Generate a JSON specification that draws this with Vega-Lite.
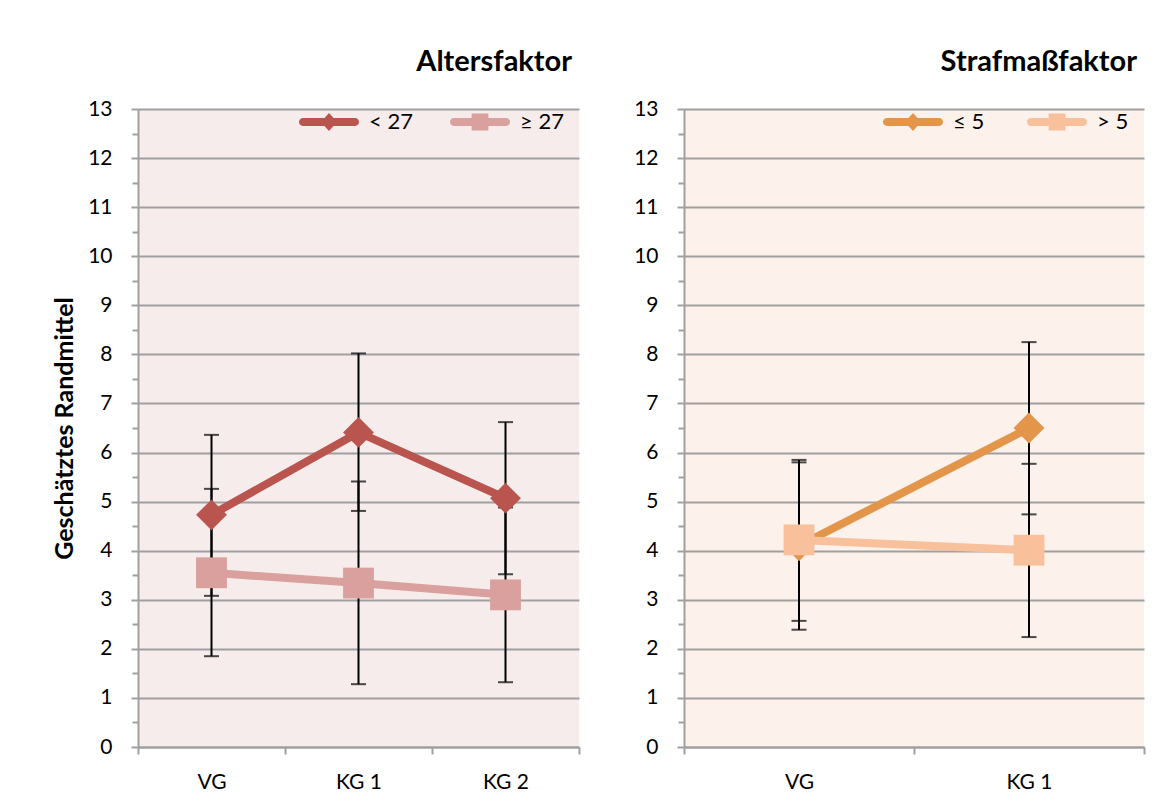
{
  "$schema": "https://vega.github.io/schema/vega-lite/v6.json",
  "background": "white",
  "padding": {"left": 52, "top": 48, "right": 5, "bottom": 5},
  "spacing": 53,
  "resolve": {"scale": {"color": "independent"}, "legend": {"color": "independent"}},
  "config": {
    "font": "Lato",
    "axis": {"domainColor": "#A0A0A0", "domainWidth": 2, "tickColor": "#A0A0A0", "tickWidth": 2, "gridColor": "#A0A0A0", "gridWidth": 2, "labelFont": "Lato", "labelFontSize": 21, "labelColor": "black", "titleFont": "Lato", "titleFontSize": 25, "titleFontWeight": "bold", "titleColor": "black"},
    "axisY": {"labelPadding": 19, "titlePadding": 10, "labelOverlap": false, "labelFlush": false},
    "axisX": {"labelPadding": 17, "tickSize": 7, "grid": false, "labelAngle": 0, "tickBand": "extent", "title": null, "labelFontSize": 21},
    "title": {"font": "Lato", "fontSize": 29, "fontWeight": "bold", "anchor": "end", "color": "black", "offset": 15, "dx": -8},
    "legend": {"labelFont": "Lato", "labelFontSize": 22, "labelColor": "black", "padding": 0, "title": null}
  },
  "hconcat": [
    {
      "width": 441,
      "height": 638,
      "view": {"fill": "#F5ECEB", "stroke": null},
      "title": {"text": "Altersfaktor"},
      "data": {"values": [
        {"gruppe": "VG", "alter": "< 27", "mittel": 4.73, "lo": 3.08, "hi": 6.36},
        {"gruppe": "KG 1", "alter": "< 27", "mittel": 6.41, "lo": 4.81, "hi": 8.02},
        {"gruppe": "KG 2", "alter": "< 27", "mittel": 5.07, "lo": 3.52, "hi": 6.62},
        {"gruppe": "VG", "alter": "≥ 27", "mittel": 3.55, "lo": 1.85, "hi": 5.26},
        {"gruppe": "KG 1", "alter": "≥ 27", "mittel": 3.34, "lo": 1.28, "hi": 5.41},
        {"gruppe": "KG 2", "alter": "≥ 27", "mittel": 3.10, "lo": 1.32, "hi": 4.88}
      ]},
      "encoding": {
        "x": {"field": "gruppe", "type": "nominal", "sort": ["VG", "KG 1", "KG 2"], "scale": {"type": "band", "paddingInner": 0, "paddingOuter": 0}},
        "color": {"field": "alter", "type": "nominal", "scale": {"domain": ["< 27", "≥ 27"], "range": ["#B9544F", "#D9A09D"]},
          "legend": {"orient": "none", "legendX": 161, "legendY": -17, "direction": "horizontal", "symbolSize": 3600, "labelOffset": 10, "columnPadding": 36, "labelFontSize": 22, "labelFont": "Lato", "labelColor": "black", "title": null, "padding": 0,
            "encode": {"symbols": {"update": {
              "shape": {"signal": "datum.value === '< 27' ? 'M-0.87,-0.13 L0.87,-0.13 A0.13,0.13 0 0 1 0.87,0.13 L-0.87,0.13 A0.13,0.13 0 0 1 -0.87,-0.13 Z M0,-0.3 L0.27,0 L0,0.3 L-0.27,0 Z' : 'M-0.87,-0.13 L0.87,-0.13 A0.13,0.13 0 0 1 0.87,0.13 L-0.87,0.13 A0.13,0.13 0 0 1 -0.87,-0.13 Z M-0.28,-0.28 L0.28,-0.28 L0.28,0.28 L-0.28,0.28 Z'"},
              "fill": {"signal": "datum.value === '< 27' ? '#B9544F' : '#D9A09D'"},
              "stroke": {"value": "transparent"},
              "strokeWidth": {"value": 0},
              "opacity": {"value": 1},
              "size": {"value": 3600}
            }}}}}
      },
      "layer": [
        {
          "mark": {"type": "errorbar", "color": "black", "thickness": 2, "ticks": {"size": 15}},
          "encoding": {
            "color": {"value": "black"},
            "y": {"field": "lo", "type": "quantitative", "scale": {"domain": [0, 13], "nice": false},
              "axis": {"title": "Geschätztes Randmittel", "values": [0,0.5,1,1.5,2,2.5,3,3.5,4,4.5,5,5.5,6,6.5,7,7.5,8,8.5,9,9.5,10,10.5,11,11.5,12,12.5,13], "labelExpr": "datum.value % 1 === 0 ? format(datum.value, 'd') : ''", "gridOpacity": {"condition": {"test": "datum.value % 1 !== 0", "value": 0}, "value": 1}, "tickSize": {"condition": {"test": "datum.value % 1 !== 0", "value": 6}, "value": 7}}},
            "y2": {"field": "hi"}
          }
        },
        {
          "mark": {"type": "line", "strokeWidth": 8},
          "encoding": {
            "y": {"field": "mittel", "type": "quantitative", "scale": {"domain": [0, 13], "nice": false},
              "axis": {"title": "Geschätztes Randmittel", "values": [0,0.5,1,1.5,2,2.5,3,3.5,4,4.5,5,5.5,6,6.5,7,7.5,8,8.5,9,9.5,10,10.5,11,11.5,12,12.5,13], "labelExpr": "datum.value % 1 === 0 ? format(datum.value, 'd') : ''", "gridOpacity": {"condition": {"test": "datum.value % 1 !== 0", "value": 0}, "value": 1}, "tickSize": {"condition": {"test": "datum.value % 1 !== 0", "value": 6}, "value": 7}}}
          }
        },
        {
          "transform": [{"filter": "datum.alter === '< 27'"}],
          "mark": {"type": "point", "filled": true, "size": 950, "opacity": 1, "shape": "diamond"},
          "encoding": {
            "y": {"field": "mittel", "type": "quantitative", "scale": {"domain": [0, 13], "nice": false},
              "axis": {"title": "Geschätztes Randmittel", "values": [0,0.5,1,1.5,2,2.5,3,3.5,4,4.5,5,5.5,6,6.5,7,7.5,8,8.5,9,9.5,10,10.5,11,11.5,12,12.5,13], "labelExpr": "datum.value % 1 === 0 ? format(datum.value, 'd') : ''", "gridOpacity": {"condition": {"test": "datum.value % 1 !== 0", "value": 0}, "value": 1}, "tickSize": {"condition": {"test": "datum.value % 1 !== 0", "value": 6}, "value": 7}}}
          }
        },
        {
          "transform": [{"filter": "datum.alter === '≥ 27'"}],
          "mark": {"type": "point", "filled": true, "size": 950, "opacity": 1, "shape": "square"},
          "encoding": {
            "y": {"field": "mittel", "type": "quantitative", "scale": {"domain": [0, 13], "nice": false},
              "axis": {"title": "Geschätztes Randmittel", "values": [0,0.5,1,1.5,2,2.5,3,3.5,4,4.5,5,5.5,6,6.5,7,7.5,8,8.5,9,9.5,10,10.5,11,11.5,12,12.5,13], "labelExpr": "datum.value % 1 === 0 ? format(datum.value, 'd') : ''", "gridOpacity": {"condition": {"test": "datum.value % 1 !== 0", "value": 0}, "value": 1}, "tickSize": {"condition": {"test": "datum.value % 1 !== 0", "value": 6}, "value": 7}}}
          }
        }
      ]
    },
    {
      "width": 460,
      "height": 638,
      "view": {"fill": "#FCF1EB", "stroke": null},
      "title": {"text": "Strafmaßfaktor"},
      "data": {"values": [
        {"gruppe": "VG", "strafmass": "≤ 5", "mittel": 4.10, "lo": 2.39, "hi": 5.80},
        {"gruppe": "KG 1", "strafmass": "≤ 5", "mittel": 6.50, "lo": 4.74, "hi": 8.25},
        {"gruppe": "VG", "strafmass": "> 5", "mittel": 4.22, "lo": 2.57, "hi": 5.85},
        {"gruppe": "KG 1", "strafmass": "> 5", "mittel": 4.01, "lo": 2.24, "hi": 5.77}
      ]},
      "encoding": {
        "x": {"field": "gruppe", "type": "nominal", "sort": ["VG", "KG 1"], "scale": {"type": "band", "paddingInner": 0, "paddingOuter": 0}},
        "color": {"field": "strafmass", "type": "nominal", "scale": {"domain": ["≤ 5", "> 5"], "range": ["#E3954A", "#F9C09C"]},
          "legend": {"orient": "none", "legendX": 199, "legendY": -17, "direction": "horizontal", "symbolSize": 3600, "labelOffset": 10, "columnPadding": 41, "labelFontSize": 22, "labelFont": "Lato", "labelColor": "black", "title": null, "padding": 0,
            "encode": {"symbols": {"update": {
              "shape": {"signal": "datum.value === '≤ 5' ? 'M-0.87,-0.13 L0.87,-0.13 A0.13,0.13 0 0 1 0.87,0.13 L-0.87,0.13 A0.13,0.13 0 0 1 -0.87,-0.13 Z M0,-0.3 L0.27,0 L0,0.3 L-0.27,0 Z' : 'M-0.87,-0.13 L0.87,-0.13 A0.13,0.13 0 0 1 0.87,0.13 L-0.87,0.13 A0.13,0.13 0 0 1 -0.87,-0.13 Z M-0.28,-0.28 L0.28,-0.28 L0.28,0.28 L-0.28,0.28 Z'"},
              "fill": {"signal": "datum.value === '≤ 5' ? '#E3954A' : '#F9C09C'"},
              "stroke": {"value": "transparent"},
              "strokeWidth": {"value": 0},
              "opacity": {"value": 1},
              "size": {"value": 3600}
            }}}}}
      },
      "layer": [
        {
          "mark": {"type": "errorbar", "color": "black", "thickness": 2, "ticks": {"size": 15}},
          "encoding": {
            "color": {"value": "black"},
            "y": {"field": "lo", "type": "quantitative", "scale": {"domain": [0, 13], "nice": false},
              "axis": {"title": null, "values": [0,0.5,1,1.5,2,2.5,3,3.5,4,4.5,5,5.5,6,6.5,7,7.5,8,8.5,9,9.5,10,10.5,11,11.5,12,12.5,13], "labelExpr": "datum.value % 1 === 0 ? format(datum.value, 'd') : ''", "gridOpacity": {"condition": {"test": "datum.value % 1 !== 0", "value": 0}, "value": 1}, "tickSize": {"condition": {"test": "datum.value % 1 !== 0", "value": 6}, "value": 7}}},
            "y2": {"field": "hi"}
          }
        },
        {
          "mark": {"type": "line", "strokeWidth": 8},
          "encoding": {
            "y": {"field": "mittel", "type": "quantitative", "scale": {"domain": [0, 13], "nice": false},
              "axis": {"title": null, "values": [0,0.5,1,1.5,2,2.5,3,3.5,4,4.5,5,5.5,6,6.5,7,7.5,8,8.5,9,9.5,10,10.5,11,11.5,12,12.5,13], "labelExpr": "datum.value % 1 === 0 ? format(datum.value, 'd') : ''", "gridOpacity": {"condition": {"test": "datum.value % 1 !== 0", "value": 0}, "value": 1}, "tickSize": {"condition": {"test": "datum.value % 1 !== 0", "value": 6}, "value": 7}}}
          }
        },
        {
          "transform": [{"filter": "datum.strafmass === '≤ 5'"}],
          "mark": {"type": "point", "filled": true, "size": 950, "opacity": 1, "shape": "diamond"},
          "encoding": {
            "y": {"field": "mittel", "type": "quantitative", "scale": {"domain": [0, 13], "nice": false},
              "axis": {"title": null, "values": [0,0.5,1,1.5,2,2.5,3,3.5,4,4.5,5,5.5,6,6.5,7,7.5,8,8.5,9,9.5,10,10.5,11,11.5,12,12.5,13], "labelExpr": "datum.value % 1 === 0 ? format(datum.value, 'd') : ''", "gridOpacity": {"condition": {"test": "datum.value % 1 !== 0", "value": 0}, "value": 1}, "tickSize": {"condition": {"test": "datum.value % 1 !== 0", "value": 6}, "value": 7}}}
          }
        },
        {
          "transform": [{"filter": "datum.strafmass === '> 5'"}],
          "mark": {"type": "point", "filled": true, "size": 950, "opacity": 1, "shape": "square"},
          "encoding": {
            "y": {"field": "mittel", "type": "quantitative", "scale": {"domain": [0, 13], "nice": false},
              "axis": {"title": null, "values": [0,0.5,1,1.5,2,2.5,3,3.5,4,4.5,5,5.5,6,6.5,7,7.5,8,8.5,9,9.5,10,10.5,11,11.5,12,12.5,13], "labelExpr": "datum.value % 1 === 0 ? format(datum.value, 'd') : ''", "gridOpacity": {"condition": {"test": "datum.value % 1 !== 0", "value": 0}, "value": 1}, "tickSize": {"condition": {"test": "datum.value % 1 !== 0", "value": 6}, "value": 7}}}
          }
        }
      ]
    }
  ]
}
